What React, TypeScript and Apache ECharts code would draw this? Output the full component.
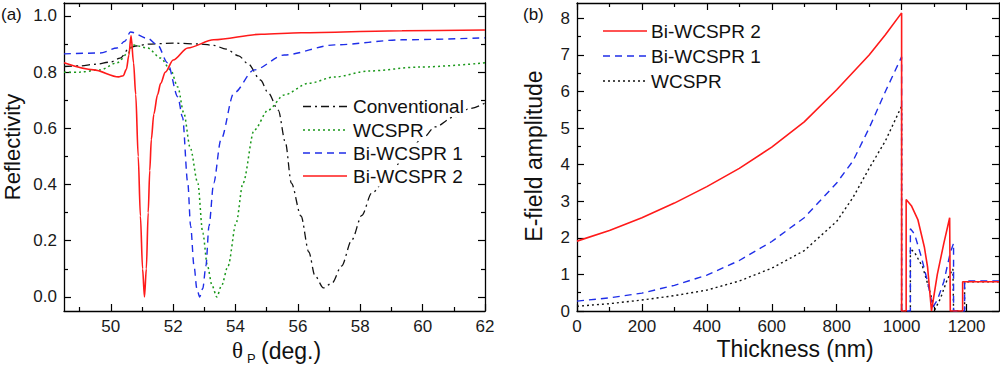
import React, { useEffect, useRef } from "react";
import * as echarts from "echarts";

// ---------- panel (a): reflectivity vs angle ----------
const thetaTicks = [50, 52, 54, 56, 58, 60, 62];
const thetaMinor = [49, 51, 53, 55, 57, 59, 61];
const reflTicks = [0, 0.2, 0.4, 0.6, 0.8, 1.0];
const reflMinor = [0.1, 0.3, 0.5, 0.7, 0.9];

const conventional = [
  [48.5, 0.82], [49, 0.822], [49.5, 0.828], [50, 0.836], [50.3, 0.85], [50.6, 0.886], [50.8, 0.893],
  [51.2, 0.9], [52, 0.903], [52.9, 0.9], [53.3, 0.895], [53.7, 0.882], [54.1, 0.858], [54.4, 0.83],
  [54.8, 0.772], [55.05, 0.726], [55.37, 0.665], [55.6, 0.55], [55.79, 0.405], [56.1, 0.288],
  [56.35, 0.16], [56.55, 0.075], [56.82, 0.032], [57.1, 0.05], [57.4, 0.11], [57.73, 0.203],
  [58.05, 0.29], [58.37, 0.37], [59, 0.45], [59.5, 0.51], [60, 0.565], [60.4, 0.605], [61, 0.64],
  [61.5, 0.67], [62, 0.69],
];
const wcsprA = [
  [48.5, 0.8], [49, 0.8], [49.66, 0.808], [50.2, 0.833], [50.56, 0.868], [50.7, 0.897], [51.18, 0.886],
  [51.6, 0.85], [51.92, 0.808], [52.15, 0.747], [52.34, 0.655], [52.55, 0.53], [52.79, 0.405],
  [52.95, 0.228], [53.1, 0.11], [53.25, 0.04], [53.4, 0.0], [53.55, 0.04], [53.76, 0.11], [54.02, 0.263],
  [54.24, 0.405], [54.6, 0.594], [55.05, 0.665], [55.56, 0.719], [56.34, 0.76], [57.18, 0.783],
  [58.27, 0.804], [59.89, 0.818], [62, 0.833],
];
const bi1A = [
  [48.5, 0.865], [49.66, 0.868], [50.2, 0.886], [50.45, 0.91], [50.63, 0.943], [51.18, 0.92],
  [51.5, 0.897], [51.82, 0.833], [52.15, 0.712], [52.3, 0.64], [52.47, 0.405], [52.56, 0.253],
  [52.67, 0.11], [52.76, 0.03], [52.85, 0.0], [52.95, 0.03], [53.05, 0.11], [53.15, 0.253], [53.3, 0.405],
  [53.53, 0.559], [53.95, 0.726], [54.6, 0.808], [55.56, 0.861], [57.18, 0.897], [59.34, 0.915], [62, 0.922],
];
const bi2A = [
  [48.5, 0.833], [49.45, 0.808], [50.25, 0.783], [50.4, 0.787], [50.5, 0.81], [50.58, 0.86], [50.65, 0.93],
  [50.73, 0.833], [50.8, 0.72], [50.88, 0.5], [50.95, 0.288], [51.02, 0.1], [51.08, 0.0], [51.14, 0.1],
  [51.2, 0.3], [51.25, 0.45], [51.3, 0.56], [51.38, 0.65], [51.5, 0.72], [51.6, 0.76], [51.75, 0.8],
  [52.0, 0.843], [52.47, 0.886], [53.3, 0.915], [54.82, 0.935], [56.1, 0.94], [59.34, 0.947], [62, 0.95],
];

// ---------- panel (b): E-field amplitude vs thickness ----------
const thickTicks = [0, 200, 400, 600, 800, 1000, 1200];
const thickMinor = [100, 300, 500, 700, 900, 1100];
const fieldTicks = [0, 1, 2, 3, 4, 5, 6, 7, 8];
const fieldMinor = [0.5, 1.5, 2.5, 3.5, 4.5, 5.5, 6.5, 7.5];

const bi2B = [
  [0, 1.91], [100, 2.2], [200, 2.55], [300, 2.95], [400, 3.4], [500, 3.9], [600, 4.48], [700, 5.17],
  [800, 6.05], [900, 7.0], [950, 7.55], [1000, 8.15], [1000, 0], [1014, 0], [1014, 3.05], [1030, 2.88],
  [1050, 2.5], [1070, 1.75], [1080, 1.2], [1092, 0], [1110, 1.0], [1130, 1.85], [1148, 2.55], [1150, 0],
  [1188, 0], [1188, 0.8], [1300, 0.8],
];
const bi1B = [
  [0, 0.27], [100, 0.36], [200, 0.49], [300, 0.7], [400, 0.98], [500, 1.38], [600, 1.9], [700, 2.55],
  [800, 3.5], [850, 4.1], [900, 5.0], [950, 6.0], [1000, 6.95], [1000, 0], [1027, 0], [1027, 2.25],
  [1040, 2.1], [1060, 1.5], [1080, 0.8], [1096, 0.1], [1110, 0.3], [1130, 0.8], [1150, 1.6], [1160, 1.85],
  [1160, 0], [1194, 0], [1194, 0.82], [1300, 0.82],
];
const wcsprB = [
  [0, 0.13], [100, 0.2], [200, 0.3], [300, 0.42], [400, 0.57], [500, 0.82], [600, 1.17], [700, 1.65],
  [800, 2.45], [850, 3.1], [900, 3.9], [950, 4.65], [1000, 5.6], [1000, 0], [1027, 0], [1027, 1.7],
  [1040, 1.6], [1065, 1.2], [1085, 0.6], [1102, 0.03], [1120, 0.35], [1140, 0.85], [1158, 1.15],
  [1160, 0], [1194, 0], [1194, 0.8], [1300, 0.8],
];

const legendA = ["Conventional", "WCSPR", "Bi-WCSPR 1", "Bi-WCSPR 2"];
const legendB = ["Bi-WCSPR 2", "Bi-WCSPR 1", "WCSPR"];

const FONT = '"Liberation Sans", Arial, sans-serif';
const RED = "#ff1a1a";
const BLUE = "#1f2ee8";
const GREEN = "#1a981a";
const BLACK = "#111111";

type Fmt = (v: number) => string;

function axis(
  dim: "x" | "y",
  gridIndex: number,
  position: string,
  min: number,
  max: number,
  ticks: number[],
  len: number,
  showLine: boolean,
  labelFmt: Fmt | null
) {
  return {
    type: "value",
    gridIndex,
    position,
    min,
    max,
    axisLine: { show: showLine, onZero: false, lineStyle: { color: "#000", width: 1.3 } },
    axisTick: {
      show: true,
      inside: true,
      length: len,
      customValues: ticks,
      lineStyle: { color: "#000", width: 1.2 },
    },
    axisLabel: labelFmt
      ? {
          show: true,
          customValues: ticks,
          color: "#1a1a1a",
          fontSize: 17,
          fontFamily: FONT,
          margin: 7,
          formatter: labelFmt,
        }
      : { show: false },
    splitLine: { show: false },
    minorTick: { show: false },
  };
}

function lineSeries(name: string, data: number[][], xi: number, yi: number, color: string, width: number, dash: any, smooth: number) {
  return {
    name,
    type: "line",
    xAxisIndex: xi,
    yAxisIndex: yi,
    data,
    symbol: "none",
    smooth: smooth > 0 ? smooth : false,
    smoothMonotone: "x",
    clip: true,
    lineStyle: { color, width, type: dash },
  };
}

function txt(text: string, x: number, y: number, size: number, opts: any = {}) {
  return {
    type: "text",
    x,
    y,
    z: 100,
    rotation: opts.rotation || 0,
    style: {
      text,
      fill: "#111",
      font: `${size}px ${opts.family || FONT}`,
      textAlign: opts.align || "left",
      align: opts.align || "left",
      textVerticalAlign: "middle",
      verticalAlign: "middle",
      backgroundColor: opts.bg,
      padding: opts.bg ? [1, 2] : undefined,
    },
  };
}

function legLine(x1: number, x2: number, y: number, color: string, width: number, dash: number[] | null) {
  return {
    type: "line",
    z: 100,
    shape: { x1, y1: y, x2, y2: y },
    style: { stroke: color, lineWidth: width, lineDash: dash || undefined },
  };
}

const DASHDOT = [8, 4, 2, 4];
const DOT = [2, 3];
const DASH = [7, 5];

export default function App() {
  const ref = useRef<HTMLDivElement>(null);
  useEffect(() => {
    document.body.style.margin = "0";
    if (!ref.current) return;
    const chart = echarts.init(ref.current, undefined, { renderer: "svg" });
    const f1: Fmt = (v) => Number(v).toFixed(1);
    const f0: Fmt = (v) => String(v);
    const option = {
      animation: false,
      backgroundColor: "#fff",
      grid: [
        { left: 64, top: 3, width: 421, height: 308 },
        { left: 577, top: 3, width: 422, height: 308 },
      ],
      xAxis: [
        axis("x", 0, "bottom", 48.5, 62, thetaTicks, 7, true, f0),
        axis("x", 0, "top", 48.5, 62, thetaTicks, 7, true, null),
        axis("x", 0, "bottom", 48.5, 62, thetaMinor, 4, false, null),
        axis("x", 0, "top", 48.5, 62, thetaMinor, 4, false, null),
        axis("x", 1, "bottom", 0, 1300, thickTicks, 7, true, f0),
        axis("x", 1, "top", 0, 1300, thickTicks, 7, true, null),
        axis("x", 1, "bottom", 0, 1300, thickMinor, 4, false, null),
        axis("x", 1, "top", 0, 1300, thickMinor, 4, false, null),
      ],
      yAxis: [
        axis("y", 0, "left", -0.05, 1.046, reflTicks, 7, true, f1),
        axis("y", 0, "right", -0.05, 1.046, reflTicks, 7, true, null),
        axis("y", 0, "left", -0.05, 1.046, reflMinor, 4, false, null),
        axis("y", 0, "right", -0.05, 1.046, reflMinor, 4, false, null),
        axis("y", 1, "left", 0, 8.42, fieldTicks, 7, true, f0),
        axis("y", 1, "right", 0, 8.42, fieldTicks, 7, true, null),
        axis("y", 1, "left", 0, 8.42, fieldMinor, 4, false, null),
        axis("y", 1, "right", 0, 8.42, fieldMinor, 4, false, null),
      ],
      series: [
        lineSeries("Conventional", conventional, 0, 0, BLACK, 1.3, DASHDOT, 0.3),
        lineSeries("WCSPR", wcsprA, 0, 0, GREEN, 1.5, DOT, 0.3),
        lineSeries("Bi-WCSPR 1", bi1A, 0, 0, BLUE, 1.4, DASH, 0.3),
        lineSeries("Bi-WCSPR 2", bi2A, 0, 0, RED, 1.6, "solid", 0.3),
        lineSeries("WCSPR", wcsprB, 4, 4, BLACK, 1.4, DOT, 0),
        lineSeries("Bi-WCSPR 1", bi1B, 4, 4, BLUE, 1.4, DASH, 0),
        lineSeries("Bi-WCSPR 2", bi2B, 4, 4, RED, 1.6, "solid", 0),
      ],
      graphic: [
        txt("(a)", 1, 14, 17),
        txt("(b)", 523, 14, 17),
        txt("Reflectivity", 12, 147, 22, { align: "center", rotation: Math.PI / 2 }),
        txt("E-field amplitude", 534, 156, 23, { align: "center", rotation: Math.PI / 2 }),
        txt("θ", 232, 350, 23, { family: '"Liberation Serif", "DejaVu Serif", serif' }),
        txt("P", 247, 358, 13),
        txt("(deg.)", 261, 351, 23),
        txt("Thickness (nm)", 795, 349, 23, { align: "center" }),
        // legend (a)
        legLine(303, 347, 106.5, BLACK, 1.3, DASHDOT),
        txt(legendA[0], 351, 106.5, 19, { bg: "#fff" }),
        legLine(303, 347, 130, GREEN, 1.5, DOT),
        txt(legendA[1], 351, 130, 19, { bg: "#fff" }),
        legLine(303, 347, 153, BLUE, 1.4, DASH),
        txt(legendA[2], 351, 153, 19, { bg: "#fff" }),
        legLine(303, 347, 176, RED, 1.6, null),
        txt(legendA[3], 351, 176, 19, { bg: "#fff" }),
        // legend (b)
        legLine(603, 647, 31, RED, 1.6, null),
        txt(legendB[0], 651, 31, 19),
        legLine(603, 647, 56, BLUE, 1.4, DASH),
        txt(legendB[1], 651, 56, 19),
        legLine(603, 647, 81, BLACK, 1.4, DOT),
        txt(legendB[2], 651, 81, 19),
      ],
    };
    chart.setOption(option as any);
    return () => chart.dispose();
  }, []);
  return <div ref={ref} style={{ width: 1000, height: 366 }} />;
}
